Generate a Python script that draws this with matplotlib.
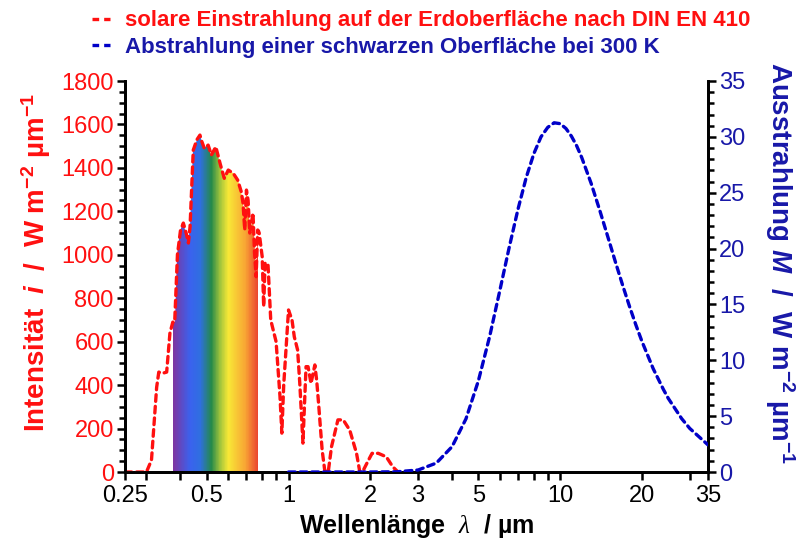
import numpy as np
import matplotlib
matplotlib.use("Agg")
import matplotlib.pyplot as plt
from matplotlib.colors import LinearSegmentedColormap
from matplotlib.lines import Line2D
from matplotlib.patches import PathPatch
from matplotlib.ticker import FixedLocator, NullFormatter, MultipleLocator

plt.rcParams['font.family'] = ['Liberation Sans', 'DejaVu Sans']
plt.rcParams['mathtext.fontset'] = 'custom'
plt.rcParams['mathtext.rm'] = 'Liberation Sans:bold'
plt.rcParams['mathtext.bf'] = 'Liberation Sans:bold'
plt.rcParams['mathtext.it'] = 'Liberation Sans:bold:italic'
plt.rcParams['mathtext.cal'] = 'Liberation Serif:italic'

# solar irradiance at ground level (DIN EN 410)
sun_wl = [0.25, 0.28, 0.30, 0.313, 0.327, 0.333, 0.345, 0.356, 0.366, 0.375,
          0.381, 0.39, 0.40, 0.41, 0.42, 0.428, 0.434, 0.446, 0.46, 0.472,
          0.48, 0.49, 0.506, 0.52, 0.54, 0.56, 0.58, 0.60, 0.626, 0.65,
          0.67, 0.68, 0.69, 0.70, 0.71, 0.72, 0.74, 0.75, 0.76, 0.77,
          0.775, 0.78, 0.80, 0.81, 0.82, 0.84, 0.86, 0.90, 0.93, 0.945,
          0.96, 1.00, 1.03, 1.05, 1.08, 1.10, 1.13, 1.16, 1.18, 1.21,
          1.25, 1.27, 1.29, 1.33, 1.36, 1.40, 1.44, 1.52, 1.59, 1.68,
          1.78, 1.83, 1.88, 1.97, 2.03, 2.14, 2.29, 2.42, 2.53, 2.6]
sun_val = [0, 0, 0, 55, 390, 460, 455, 460, 640, 690,
           690, 1000, 1110, 1146, 1100, 1054, 1129, 1482, 1530, 1551,
           1520, 1490, 1505, 1459, 1497, 1420, 1352, 1390, 1375, 1344,
           1290, 1238, 1114, 1298, 1250, 1100, 1192, 1008, 899, 1114,
           1110, 1100, 991, 761, 961, 961, 700, 600, 350, 179,
           400, 746, 700, 623, 562, 410, 133, 485, 485, 408,
           493, 420, 316, 100, 5, 0, 117, 240, 240, 193,
           86, 0, 5, 55, 86, 86, 70, 24, 0, 0]

# black body at 300 K
bb_wl = [1, 2, 2.5, 3, 3.5, 4, 4.5, 5, 5.5, 6, 6.5, 7, 7.5, 8, 8.5, 9, 9.5,
         10, 10.5, 11, 11.5, 12, 13, 14, 15, 16, 17, 18, 19, 20, 22, 24, 25,
         28, 30, 35]
bb_val = [0, 0, 0.02, 0.18, 0.8, 2.27, 4.76, 8.17, 12.13, 16.28, 20.17,
          23.56, 26.37, 28.5, 30.0, 30.85, 31.26, 31.18, 30.75, 30.06, 29.2,
          28.16, 25.84, 23.39, 21.0, 18.74, 16.68, 14.82, 13.16, 11.69, 9.25,
          7.38, 6.59, 4.78, 3.9, 2.43]

x_major = [0.25, 0.5, 1, 2, 3, 5, 10, 20, 35]
x_labels = ['0.25', '0.5', '1', '2', '3', '5', '10', '20', '35']
x_minor = [0.3, 0.4, 0.6, 0.7, 0.8, 0.9, 4, 6, 7, 8, 9, 30]

red = '#ff1010'
blue = '#1818a8'
line_blue = '#0000c8'
dash = (2.0, 1.5)

fig = plt.figure(figsize=(7.97, 5.40), dpi=100)
ax = fig.add_axes([0.1568, 0.1259, 0.7315, 0.7241])
ax2 = ax.twinx()

sun_wl_a = np.array(sun_wl)
sun_val_a = np.array(sun_val)

# rainbow under the visible part of the solar curve
vis = (sun_wl_a >= 0.375) & (sun_wl_a <= 0.775)
poly = ax.fill_between(sun_wl_a, 0, sun_val_a, where=vis, color='none', lw=0)
clip = PathPatch(poly.get_paths()[0], transform=ax.transData,
                 facecolor='none', edgecolor='none')
ax.add_patch(clip)
rainbow = LinearSegmentedColormap.from_list('vis', [
    (0.0, '#7d35a0'), (0.2, '#3a62ee'), (0.32, '#2f6fe0'), (0.45, '#24894a'),
    (0.55, '#9cc23c'), (0.65, '#f8e836'), (0.85, '#f8a534'), (1.0, '#ea432e')])
xe = np.geomspace(0.375, 0.775, 201)
c = np.linspace(0, 1, 200).reshape(1, -1)
mesh = ax.pcolormesh(xe, [0, 1800], c, cmap=rainbow, shading='flat', zorder=1)
mesh.set_clip_path(clip)

ax.plot(sun_wl, sun_val, color=red, lw=2.4, dashes=dash,
        dash_capstyle='round', zorder=3)
ax2.plot(bb_wl, bb_val, color=line_blue, lw=2.4, dashes=dash,
         dash_capstyle='round', zorder=3)

ax.set_xscale('log')
ax.set_xlim(0.25, 35)
ax.set_ylim(0, 1800)
ax2.set_ylim(0, 35)

ax.xaxis.set_major_locator(FixedLocator(x_major))
ax.xaxis.set_minor_locator(FixedLocator(x_minor))
ax.set_xticklabels(x_labels)
ax.xaxis.set_minor_formatter(NullFormatter())

ax.yaxis.set_major_locator(MultipleLocator(200))
ax.yaxis.set_minor_locator(MultipleLocator(50))
ax2.yaxis.set_major_locator(MultipleLocator(5))
ax2.yaxis.set_minor_locator(MultipleLocator(1))

for a in (ax, ax2):
    a.spines['top'].set_visible(False)
    for s in a.spines.values():
        s.set_linewidth(2)
    a.tick_params(which='both', direction='out', width=1.8)
    a.tick_params(which='major', length=6, labelsize=17)
    a.tick_params(which='minor', length=4)

ax.tick_params(axis='x', which='minor', length=6)
ax.tick_params(axis='x', labelcolor='black', pad=3)
ax.tick_params(axis='y', labelcolor=red, pad=2)
ax2.tick_params(axis='y', labelcolor=blue, pad=2)

ax.text(-0.152, 0.535, r'Intensität  $\mathit{i}$  /  W m$^{-2}$ µm$^{-1}$',
        transform=ax.transAxes, rotation=90, ha='center', va='center',
        color=red, fontsize=20, fontweight='bold')
ax.text(1.123, 0.535, r'Ausstrahlung $\mathit{M}$  /  W m$^{-2}$ µm$^{-1}$',
        transform=ax.transAxes, rotation=270, ha='center', va='center',
        color=blue, fontsize=20, fontweight='bold')
ax.set_xlabel(r'Wellenlänge  $\mathcal{\lambda}$  / µm', fontsize=18,
              fontweight='bold', labelpad=4)

handles = [Line2D([], [], color=red, lw=2.4, dashes=dash),
           Line2D([], [], color=line_blue, lw=2.4, dashes=dash)]
leg = fig.legend(handles,
                 ['solare Einstrahlung auf der Erdoberfläche nach DIN EN 410',
                  'Abstrahlung einer schwarzen Oberfläche bei 300 K'],
                 loc='upper left', bbox_to_anchor=(0.09, 1.018), frameon=False,
                 handlelength=0.8, handletextpad=0.7, labelspacing=0.25,
                 prop={'size': 16, 'weight': 'bold'})
leg.get_texts()[0].set_color(red)
leg.get_texts()[1].set_color(blue)

fig.savefig('out.png', dpi=100)
